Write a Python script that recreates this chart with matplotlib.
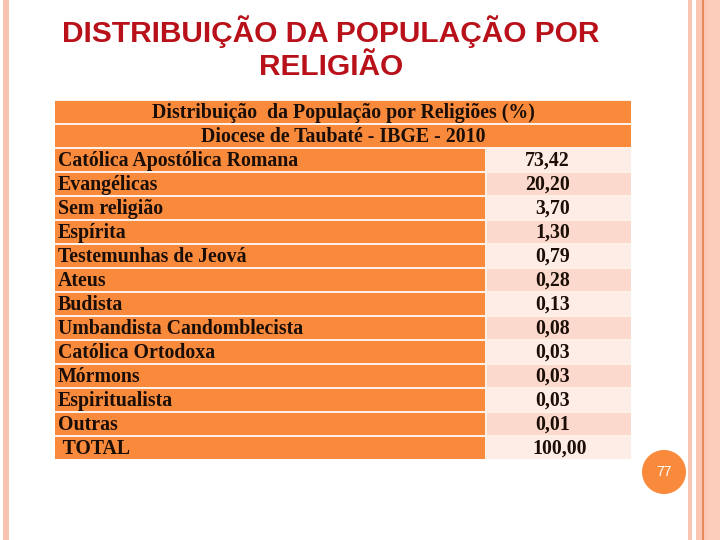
import matplotlib.pyplot as plt
from matplotlib.patches import Rectangle, Circle

# table content
title_lines = ['DISTRIBUIÇÃO DA POPULAÇÃO POR', 'RELIGIÃO']
header_lines = ['Distribuição  da População por Religiões (%)',
                'Diocese de Taubaté - IBGE - 2010']
religions = ['Católica Apostólica Romana', 'Evangélicas', 'Sem religião', 'Espírita',
             'Testemunhas de Jeová', 'Ateus', 'Budista', 'Umbandista Candomblecista',
             'Católica Ortodoxa', 'Mórmons', 'Espiritualista', 'Outras', ' TOTAL']
percent = [73.42, 20.20, 3.70, 1.30, 0.79, 0.28, 0.13, 0.08, 0.03, 0.03, 0.03, 0.01, 100.00]
page_number = '77'

orange = '#F98A3C'
light_a = '#FDEDE6'
light_b = '#FCD9CD'
ink = '#1A0E06'
serif = 'Liberation Serif'
fs = 14.3

fig = plt.figure(figsize=(7.2, 5.4), dpi=100)
ax = fig.add_axes([0, 0, 1, 1])
ax.set_xlim(0, 720)
ax.set_ylim(540, 0)
ax.axis('off')

# slide borders
ax.add_patch(Rectangle((3, 0), 6, 540, color='#F8C3B1', lw=0))
for x0, w, c in [(688, 4, '#F9C4B2'), (696, 6, '#FBC7B4'), (702, 1.5, '#E88A5C'),
                 (703.5, 4, '#FBC7B4'), (707, 13, '#FDCDBB')]:
    ax.add_patch(Rectangle((x0, 0), w, 540, color=c, lw=0))

# title
for i, line in enumerate(title_lines):
    ax.text(331, 32 + i * 35, line, ha='center', va='center', fontsize=21.5,
            family='Liberation Sans', weight='bold', color='#B8111A')

# table geometry
left, right, split = 55, 631, 486
top, pitch, h = 101, 24, 22

ax.add_patch(Rectangle((left, top - 1), right - left, pitch * (len(religions) + 2) - 1,
                       color='#FDF1E7', lw=0))

for i, line in enumerate(header_lines):
    y = top + i * pitch
    ax.add_patch(Rectangle((left, y), right - left, h, color=orange, lw=0))
    ax.text((left + right) / 2, y + h / 2 + 1, line, ha='center', va='center',
            fontsize=fs, family=serif, weight='bold', color=ink)

for i, (name, val) in enumerate(zip(religions, percent)):
    y = top + (i + 2) * pitch
    ax.add_patch(Rectangle((left, y), split - left - 1, h, color=orange, lw=0))
    ax.add_patch(Rectangle((split + 1, y), right - split - 1, h,
                           color=light_a if i % 2 == 0 else light_b, lw=0))
    ax.text(left + 3, y + h / 2 + 1, name, ha='left', va='center',
            fontsize=fs, family=serif, weight='bold', color=ink)
    xr = 587 if name.strip() == 'TOTAL' else 570
    ax.text(xr, y + h / 2 + 1, f'{val:.2f}'.replace('.', ','), ha='right', va='center',
            fontsize=fs, family=serif, weight='bold', color=ink)

# page number badge
ax.add_patch(Circle((664, 472), 22, color=orange, lw=0))
ax.text(664, 472, page_number, ha='center', va='center', fontsize=10,
        family='Liberation Sans', color='white')

fig.savefig('out.png', dpi=100)
